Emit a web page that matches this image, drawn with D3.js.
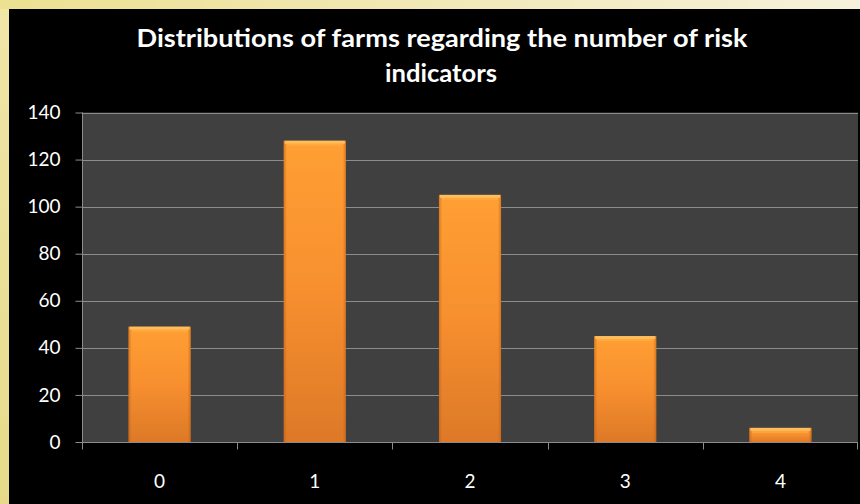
<!DOCTYPE html>
<html>
<head>
<meta charset="utf-8">
<script src="https://cdn.jsdelivr.net/npm/d3@7"></script>
<style>
  html, body { margin: 0; padding: 0; background: #000; }
  svg { display: block; }
  text { font-family: Lato, "Open Sans", "Liberation Sans", sans-serif; }
</style>
</head>
<body>
<svg id="chart" width="860" height="504"></svg>
<script>
// Number of risk indicators per farm and how many farms fall in each group
const categories = ["0", "1", "2", "3", "4"];
const farmCounts = [49, 128, 105, 45, 6];
const yTicks = [0, 20, 40, 60, 80, 100, 120, 140];
const titleLines = ["Distributions of farms regarding the number of risk", "indicators"];

const W = 860, H = 504;
const plot = { left: 82, right: 858, top: 112.5, bottom: 442 };

const svg = d3.select("#chart");
const defs = svg.append("defs");

// Slide-style frame: pale yellow border on the left and top
const frameGrad = defs.append("linearGradient").attr("id", "frame")
  .attr("x1", "0").attr("y1", "0").attr("x2", "1").attr("y2", "0");
frameGrad.append("stop").attr("offset", "0").attr("stop-color", "#ece091");
frameGrad.append("stop").attr("offset", "1").attr("stop-color", "#f6f1dc");
svg.append("rect").attr("width", W).attr("height", H).attr("fill", "url(#frame)");
const sideGrad = defs.append("linearGradient").attr("id", "side")
  .attr("x1", "0").attr("y1", "0").attr("x2", "0").attr("y2", "1");
sideGrad.append("stop").attr("offset", "0").attr("stop-color", "#efe6a8");
sideGrad.append("stop").attr("offset", "1").attr("stop-color", "#e6da8a");
svg.append("rect").attr("x", 0).attr("y", 9).attr("width", 9).attr("height", H - 9).attr("fill", "url(#side)");
svg.append("rect").attr("x", 9).attr("y", 9).attr("width", W - 9).attr("height", H - 9).attr("fill", "#000");

// Bar fill: orange vertical gradient
const barGrad = defs.append("linearGradient").attr("id", "barFill")
  .attr("x1", "0").attr("y1", "0").attr("x2", "0").attr("y2", "1");
barGrad.append("stop").attr("offset", "0").attr("stop-color", "#ff9f33");
barGrad.append("stop").attr("offset", "0.5").attr("stop-color", "#f78f2f");
barGrad.append("stop").attr("offset", "1").attr("stop-color", "#dd7927");
const edgeGrad = defs.append("linearGradient").attr("id", "barEdge")
  .attr("x1", "0").attr("y1", "0").attr("x2", "1").attr("y2", "0");
edgeGrad.append("stop").attr("offset", "0").attr("stop-color", "#b85a12").attr("stop-opacity", 0.55);
edgeGrad.append("stop").attr("offset", "0.05").attr("stop-color", "#b85a12").attr("stop-opacity", 0);
edgeGrad.append("stop").attr("offset", "0.95").attr("stop-color", "#b85a12").attr("stop-opacity", 0);
edgeGrad.append("stop").attr("offset", "1").attr("stop-color", "#b85a12").attr("stop-opacity", 0.55);

const x = d3.scaleBand().domain(categories).range([plot.left, plot.right]).paddingInner(0.6).paddingOuter(0.3);
const y = d3.scaleLinear().domain([0, 140]).range([plot.bottom, plot.top]);

// Plot background
svg.append("rect")
  .attr("x", plot.left).attr("y", plot.top)
  .attr("width", plot.right - plot.left).attr("height", plot.bottom - plot.top)
  .attr("fill", "#404040");

// Horizontal gridlines
svg.append("g").selectAll("line").data(yTicks.filter(d => d > 0)).join("line")
  .attr("x1", plot.left).attr("x2", plot.right)
  .attr("y1", d => Math.round(y(d)) + 0.5).attr("y2", d => Math.round(y(d)) + 0.5)
  .attr("stroke", "#8c8c8c").attr("stroke-width", 1);

// Bars
const bars = svg.append("g").selectAll("g").data(categories).join("g");
bars.append("rect")
  .attr("x", d => x(d)).attr("width", x.bandwidth())
  .attr("y", (d, i) => y(farmCounts[i])).attr("height", (d, i) => plot.bottom - y(farmCounts[i]))
  .attr("fill", "url(#barFill)");
bars.append("rect")
  .attr("x", d => x(d)).attr("width", x.bandwidth())
  .attr("y", (d, i) => y(farmCounts[i])).attr("height", (d, i) => plot.bottom - y(farmCounts[i]))
  .attr("fill", "url(#barEdge)");
// bevel highlight along the top edge
bars.append("rect")
  .attr("x", d => x(d) + 1).attr("width", x.bandwidth() - 2)
  .attr("y", (d, i) => y(farmCounts[i])).attr("height", 3)
  .attr("fill", "#ffc264").attr("opacity", 0.85);
bars.append("rect")
  .attr("x", d => x(d) + 3).attr("width", x.bandwidth() - 6)
  .attr("y", (d, i) => y(farmCounts[i]) + 3).attr("height", 2)
  .attr("fill", "#ffb04a").attr("opacity", 0.6);

// Y axis
const yAxis = svg.append("g").attr("transform", `translate(${plot.left + 0.5},0)`)
  .call(d3.axisLeft(y).tickValues(yTicks).tickSize(7).tickPadding(15).tickFormat(d3.format("d")));
yAxis.select(".domain").attr("stroke", "#8c8c8c").attr("d", `M0,${plot.top}V${plot.bottom}`);
yAxis.selectAll(".tick line").attr("stroke", "#8c8c8c");
yAxis.selectAll(".tick text").attr("fill", "#fff").attr("font-size", 19)
  .attr("font-family", "Lato, 'Open Sans', sans-serif");

// X axis with boundary ticks between categories
const xAxisG = svg.append("g").attr("transform", `translate(0,${plot.bottom + 0.5})`);
xAxisG.append("line").attr("x1", plot.left).attr("x2", plot.right)
  .attr("stroke", "#8c8c8c").attr("stroke-width", 1);
const step = (plot.right - plot.left) / categories.length;
xAxisG.selectAll("line.sep").data(d3.range(categories.length + 1)).join("line")
  .attr("class", "sep")
  .attr("x1", i => Math.round(plot.left + i * step) + 0.5 - (i === categories.length ? 1 : 0))
  .attr("x2", i => Math.round(plot.left + i * step) + 0.5 - (i === categories.length ? 1 : 0))
  .attr("y1", 0).attr("y2", 7)
  .attr("stroke", "#8c8c8c");
xAxisG.selectAll("text").data(categories).join("text")
  .attr("x", d => x(d) + x.bandwidth() / 2).attr("y", 45)
  .attr("text-anchor", "middle").attr("fill", "#fff").attr("font-size", 19)
  .text(d => d);

// Title
svg.append("text").attr("x", 442).attr("y", 47)
  .attr("text-anchor", "middle").attr("fill", "#fff")
  .attr("font-family", "'Open Sans', Lato, sans-serif")
  .attr("font-size", 24).attr("font-weight", "bold")
  .attr("textLength", 611).attr("lengthAdjust", "spacingAndGlyphs")
  .text(titleLines[0]);
svg.append("text").attr("x", 441).attr("y", 82)
  .attr("text-anchor", "middle").attr("fill", "#fff")
  .attr("font-family", "'Open Sans', Lato, sans-serif")
  .attr("font-size", 24).attr("font-weight", "bold")
  .attr("textLength", 112).attr("lengthAdjust", "spacingAndGlyphs")
  .text(titleLines[1]);
</script>
</body>
</html>
